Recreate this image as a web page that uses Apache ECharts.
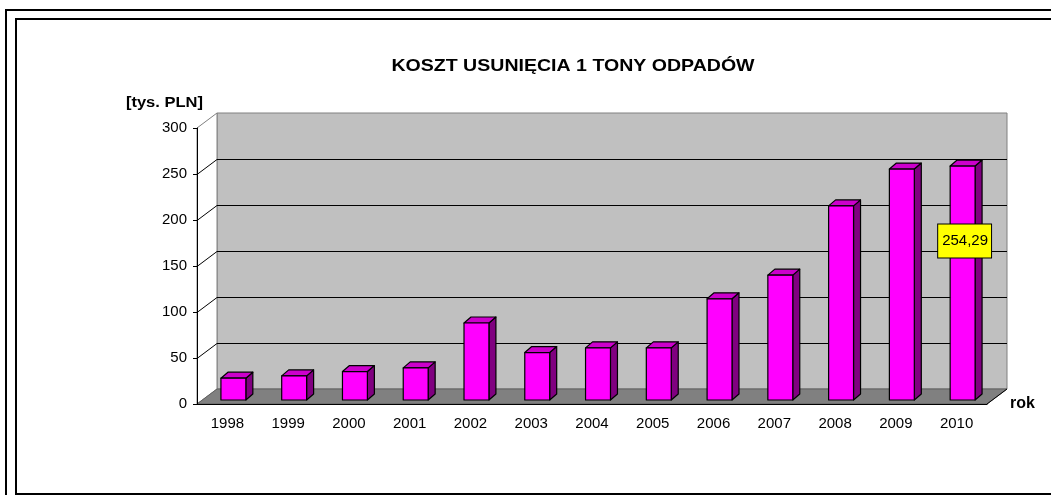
<!DOCTYPE html>
<html>
<head>
<meta charset="utf-8">
<script src="https://cdn.jsdelivr.net/npm/echarts@6/dist/echarts.min.js"></script>
<style>
  html, body { margin: 0; padding: 0; background: #fff; }
  #chart { width: 1051px; height: 495px; }
</style>
</head>
<body>
<div id="chart"></div>
<script>
// dane wykresu
var years = ['1998', '1999', '2000', '2001', '2002', '2003', '2004', '2005', '2006', '2007', '2008', '2009', '2010'];
var cost = [23.7, 26.2, 30.9, 34.9, 83.7, 51.6, 56.7, 56.7, 110, 135.7, 211, 251, 254.29];
var yTicks = [0, 50, 100, 150, 200, 250, 300];
var labelledIndex = 12; // tylko 2010 ma etykiete

var FONT = '"Liberation Sans", Arial, sans-serif';
var DX = 20, DY = -15;      // glebokosc "3D" sciany
var BX = 7, BY = -6;        // glebokosc slupka
var FX = 6, FY = -4;        // przesuniecie przedniej sciany slupka

var chart = echarts.init(document.getElementById('chart'));

function renderWall(params, api) {
  var cs = params.coordSys;
  var x0 = cs.x, y0 = cs.y, w = cs.width, h = cs.height;
  var kids = [];
  // tylna sciana
  kids.push({ type: 'rect', shape: { x: x0 + DX, y: y0 + DY, width: w, height: h },
    style: { fill: '#C0C0C0', stroke: '#808080', lineWidth: 1 } });
  // lewa sciana
  kids.push({ type: 'polygon', shape: { points: [[x0, y0], [x0 + DX, y0 + DY], [x0 + DX, y0 + h + DY], [x0, y0 + h]] },
    style: { fill: '#fff', stroke: '#808080', lineWidth: 1 } });
  // podloga
  kids.push({ type: 'polygon', shape: { points: [[x0, y0 + h], [x0 + w, y0 + h], [x0 + w + DX, y0 + h + DY], [x0 + DX, y0 + h + DY]] },
    style: { fill: '#808080', stroke: '#606060', lineWidth: 1 } });
  kids.push({ type: 'line', shape: { x1: x0 + w, y1: y0 + h, x2: x0 + w + DX, y2: y0 + h + DY },
    style: { stroke: '#000', lineWidth: 1 } });
  yTicks.forEach(function (v) {
    if (v === 0 || v === 300) return;
    var y = Math.round(api.coord([0, v])[1]) + 0.5;
    kids.push({ type: 'line', shape: { x1: x0 + DX, y1: y + DY, x2: x0 + w + DX, y2: y + DY },
      style: { stroke: '#000', lineWidth: 1 } });
    kids.push({ type: 'line', shape: { x1: x0, y1: y, x2: x0 + DX, y2: y + DY },
      style: { stroke: '#000', lineWidth: 1 } });
  });
  return { type: 'group', children: kids };
}

function renderBar(params, api) {
  var i = api.value(0), v = api.value(1);
  var p0 = api.coord([i, 0]);
  var p1 = api.coord([i, v]);
  var band = api.size([1, 0])[0];
  var bw = band * 0.41;
  var l = p0[0] - bw / 2 + FX, r = l + bw;
  var b = p0[1] + FY, t = p1[1] + FY;
  var st = { stroke: '#000', lineWidth: 1.2, lineJoin: 'round' };
  var kids = [
    { type: 'polygon', shape: { points: [[r, b], [r + BX, b + BY], [r + BX, t + BY], [r, t]] },
      style: Object.assign({ fill: '#800080' }, st) },
    { type: 'polygon', shape: { points: [[l, t], [r, t], [r + BX, t + BY], [l + BX, t + BY]] },
      style: Object.assign({ fill: '#CC00CC' }, st) },
    { type: 'rect', shape: { x: l, y: t, width: bw, height: b - t },
      style: Object.assign({ fill: '#FF00FF' }, st) }
  ];
  if (params.dataIndex === labelledIndex) {
    kids.push({ type: 'text', x: (l + r) / 2 + 2, y: t + 75, z2: 10,
      style: { text: v.toFixed(2).replace('.', ','), font: '15px ' + FONT, fill: '#000',
        align: 'center', verticalAlign: 'middle', backgroundColor: '#FFFF00',
        borderColor: '#000', borderWidth: 1, padding: [9, 3, 9, 4] } });
  }
  return { type: 'group', children: kids };
}

var option = {
  backgroundColor: '#fff',
  animation: false,
  textStyle: { fontFamily: FONT },
  graphic: [
    { type: 'rect', shape: { x: 6, y: 10, width: 1070, height: 520 }, style: { fill: null, stroke: '#000', lineWidth: 2 } },
    { type: 'rect', shape: { x: 16, y: 19, width: 1060, height: 475 }, style: { fill: null, stroke: '#000', lineWidth: 2 } },
    { type: 'text', x: 573, y: 66, scaleX: 1.15, style: { text: 'KOSZT USUNIĘCIA 1 TONY ODPADÓW', font: 'bold 17px ' + FONT,
      fill: '#000', align: 'center', verticalAlign: 'middle' } },
    { type: 'text', x: 203, y: 103, scaleX: 1.18, style: { text: '[tys. PLN]', font: 'bold 14px ' + FONT,
      fill: '#000', align: 'right', verticalAlign: 'middle' } }
  ],
  grid: { left: 197, right: 64, top: 128, bottom: 91 },
  xAxis: {
    type: 'category',
    data: years,
    z: 5,
    name: 'rok',
    nameLocation: 'end',
    nameGap: 23,
    nameTextStyle: { fontWeight: 'bold', fontSize: 16, color: '#000', align: 'left', verticalAlign: 'middle' },
    axisLine: { lineStyle: { color: '#000', width: 1 } },
    axisTick: { length: 4, lineStyle: { color: '#000' } },
    axisLabel: { color: '#000', fontSize: 15, margin: 12 }
  },
  yAxis: {
    type: 'value',
    min: 0, max: 300, interval: 50,
    z: 5,
    axisLine: { show: true, lineStyle: { color: '#000', width: 1 } },
    axisTick: { show: true, length: 4, lineStyle: { color: '#000' } },
    axisLabel: { color: '#000', fontSize: 15, margin: 10 },
    splitLine: { show: false }
  },
  series: [
    { type: 'custom', name: 'sciana', renderItem: renderWall, data: [[0, 0]], z: 1, silent: true },
    { type: 'custom', name: 'koszt', renderItem: renderBar, z: 3,
      data: cost.map(function (v, i) { return [i, v]; }) }
  ]
};
chart.setOption(option);
</script>
</body>
</html>
